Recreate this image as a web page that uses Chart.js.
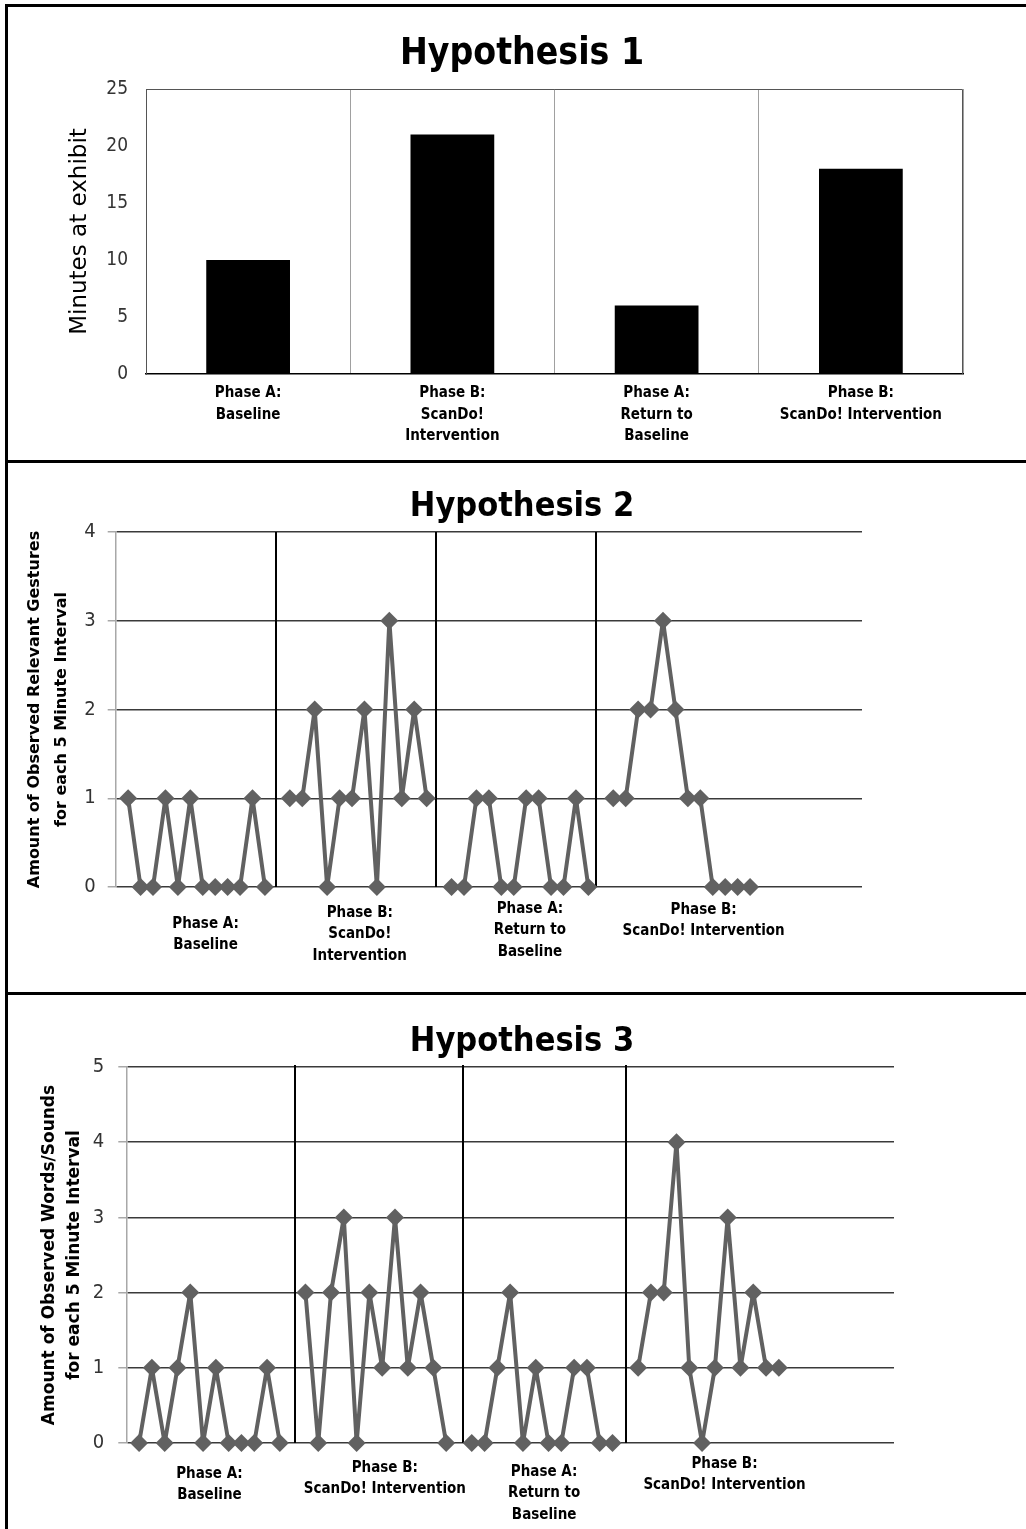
<!DOCTYPE html>
<html>
<head>
<meta charset="utf-8">
<title>Hypotheses 1-3</title>
<script src="https://cdn.jsdelivr.net/npm/chart.js@4.4.1/dist/chart.umd.min.js"></script>
<style>
    html, body { margin: 0; padding: 0; background: #fff; overflow: hidden; }
    body { width: 1026px; height: 1529px; position: relative; }
    .rule { position: absolute; background: #000; }
    canvas { position: absolute; left: 8px; }
</style>
</head>
<body>
<div class="rule" style="left:5px;top:4px;width:1021px;height:3px"></div>
<div class="rule" style="left:5px;top:4px;width:3px;height:1525px"></div>
<div class="rule" style="left:5px;top:460px;width:1021px;height:3px"></div>
<div class="rule" style="left:5px;top:992px;width:1021px;height:3px"></div>

<canvas id="hyp1" width="1028" height="452" style="top:7px"></canvas>
<canvas id="hyp2" width="1028" height="529" style="top:463px"></canvas>
<canvas id="hyp3" width="1028" height="534" style="top:995px"></canvas>

<script>
// ---- data ----
const phaseNames = [
    ['Phase A:', 'Baseline'],
    ['Phase B:', 'ScanDo!', 'Intervention'],
    ['Phase A:', 'Return to', 'Baseline'],
    ['Phase B:', 'ScanDo! Intervention']
];
const phaseNames3 = [
    ['Phase A:', 'Baseline'],
    ['Phase B:', 'ScanDo! Intervention'],
    ['Phase A:', 'Return to', 'Baseline'],
    ['Phase B:', 'ScanDo! Intervention']
];

// Hypothesis 1: minutes at exhibit per phase
const h1Minutes = [10, 21, 6, 18];
const h1Ticks = [0, 25, 5];

// Hypothesis 2: relevant gestures per 5 minute interval
const h2Baseline = [1, 0, 0, 1, 0, 1, 0, 0, 0, 0, 1, 0];
const h2ScanDo = [1, 1, 2, 0, 1, 1, 2, 0, 3, 1, 2, 1];
const h2Return = [0, 0, 1, 1, 0, 0, 1, 1, 0, 0, 1, 0];
const h2ScanDo2 = [1, 1, 2, 2, 3, 2, 1, 1, 0, 0, 0, 0];
const h2Dividers = [12.85, 25.75, 38.65];
const h2Ticks = [0, 4, 1];

// Hypothesis 3: words/sounds per 5 minute interval
const h3Baseline = [0, 1, 0, 1, 2, 0, 1, 0, 0, 0, 1, 0];
const h3ScanDo = [2, 0, 2, 3, 0, 2, 1, 3, 1, 2, 1, 0];
const h3Return = [0, 0, 1, 2, 0, 1, 0, 0, 1, 1, 0, 0];
const h3ScanDo2 = [1, 2, 2, 4, 1, 0, 1, 3, 1, 2, 1, 1];
const h3Dividers = [13.2, 26.3, 39.05];
const h3Ticks = [0, 5, 1];

const intervalSlots = 60;

const narrow = "'Liberation Sans Narrow', 'DejaVu Sans Condensed', 'Roboto', sans-serif";
const wide = "'DejaVu Sans', 'Verdana', sans-serif";
const lineGrey = '#616161';

// phases one after another, with one empty slot before and between them
function buildPoints(phases) {
    const points = [];
    const centers = [];
    let x = 1;
    phases.forEach((values, p) => {
        if (p > 0) {
            points.push({ x: x, y: null });
            x++;
        }
        centers.push(x + (values.length - 1) / 2);
        values.forEach(v => {
            points.push({ x: x, y: v });
            x++;
        });
    });
    return { points, centers };
}

// empty right-hand axis: keeps the plot narrow while the title stays centred on the page
function spacerAxis(width) {
    return {
        position: 'right',
        grid: { display: false, drawTicks: false },
        border: { display: false },
        ticks: { display: false },
        afterFit: s => { s.width = width; }
    };
}

// top and right edges of the bar chart frame
const framePlugin = {
    id: 'frame',
    beforeDatasetsDraw(chart, args, opts) {
        const { ctx, chartArea } = chart;
        ctx.save();
        ctx.strokeStyle = opts.color;
        ctx.lineWidth = 1;
        ctx.beginPath();
        ctx.moveTo(chartArea.left, chartArea.top + 0.5);
        ctx.lineTo(chartArea.right - 0.5, chartArea.top + 0.5);
        ctx.lineTo(chartArea.right - 0.5, chartArea.bottom);
        ctx.stroke();
        ctx.restore();
    }
};

// vertical phase dividers and the phase captions under the plot
const phasePlugin = {
    id: 'phases',
    beforeDatasetsDraw(chart, args, opts) {
        const { ctx, chartArea, scales: { x } } = chart;
        ctx.save();
        ctx.strokeStyle = opts.dividerColor;
        ctx.lineWidth = opts.dividerWidth;
        opts.dividers.forEach(v => {
            const px = Math.round(x.getPixelForValue(v));
            ctx.beginPath();
            ctx.moveTo(px, chartArea.top - opts.dividerOvershoot);
            ctx.lineTo(px, chartArea.bottom);
            ctx.stroke();
        });
        ctx.restore();
    },
    afterDraw(chart, args, opts) {
        const { ctx, chartArea, scales: { x } } = chart;
        ctx.save();
        ctx.font = opts.font;
        ctx.fillStyle = '#000';
        ctx.textAlign = 'center';
        ctx.textBaseline = 'middle';
        opts.labels.forEach((lines, i) => {
            const cx = x.getPixelForValue(opts.centers[i]) + opts.shift[i];
            lines.forEach((t, j) => {
                ctx.fillText(t, cx, chartArea.bottom + opts.top[i] + j * opts.lineHeight);
            });
        });
        ctx.restore();
    }
};

// ---- Hypothesis 1 ----
new Chart(document.getElementById('hyp1'), {
    type: 'bar',
    data: {
        labels: phaseNames,
        datasets: [{
            data: h1Minutes,
            backgroundColor: '#000',
            barPercentage: 0.41,
            categoryPercentage: 1
        }]
    },
    options: {
        responsive: false,
        animation: false,
        devicePixelRatio: 1,
        layout: { padding: 0 },
        plugins: {
            legend: { display: false },
            tooltip: { enabled: false },
            title: {
                display: true,
                text: 'Hypothesis 1',
                color: '#000',
                font: { family: narrow, size: 37, weight: 'bold' },
                padding: { top: 25, bottom: 12.6 }
            },
            frame: { color: '#555' }
        },
        scales: {
            x: {
                grid: { color: '#a0a0a0', offset: true, drawTicks: false },
                border: { color: '#000', width: 1.5 },
                ticks: {
                    color: '#000',
                    font: { family: narrow, size: 15, weight: 'bold', lineHeight: 1.45 },
                    padding: 8,
                    maxRotation: 0,
                    autoSkip: false
                },
                afterFit: s => { s.height = 85; }
            },
            y: {
                min: h1Ticks[0],
                max: h1Ticks[1],
                ticks: { stepSize: h1Ticks[2], color: '#333', font: { family: narrow, size: 19 }, padding: 18 },
                grid: { display: false, drawTicks: false },
                border: { color: '#555' },
                title: {
                    display: true,
                    text: 'Minutes at exhibit',
                    color: '#000',
                    font: { family: wide, size: 23 },
                    padding: { top: 58, bottom: 0 }
                },
                afterFit: s => { s.width = 138; }
            },
            pad: spacerAxis(73)
        }
    },
    plugins: [framePlugin]
});

// ---- shared line chart builder for Hypotheses 2 and 3 ----
function lineChart(id, cfg) {
    const built = buildPoints(cfg.phases);
    new Chart(document.getElementById(id), {
        type: 'line',
        data: {
            datasets: [{
                data: built.points,
                borderColor: lineGrey,
                borderWidth: 4,
                borderJoinStyle: 'round',
                backgroundColor: lineGrey,
                pointStyle: 'rectRot',
                pointRadius: 9,
                pointBorderWidth: 0,
                pointBackgroundColor: lineGrey,
                tension: 0,
                spanGaps: false,
                clip: false
            }]
        },
        options: {
            responsive: false,
            animation: false,
            devicePixelRatio: 1,
            layout: { padding: { left: 0, right: 0, top: 0, bottom: cfg.bottom } },
            plugins: {
                legend: { display: false },
                tooltip: { enabled: false },
                title: {
                    display: true,
                    text: cfg.title,
                    color: '#000',
                    font: { family: narrow, size: 34, weight: 'bold' },
                    padding: cfg.titlePad
                },
                phases: {
                    dividers: cfg.dividers,
                    dividerColor: '#000',
                    dividerWidth: 2,
                    dividerOvershoot: cfg.overshoot,
                    labels: cfg.labels,
                    centers: built.centers,
                    shift: cfg.labelShift,
                    top: cfg.labelTop,
                    lineHeight: 21.5,
                    font: 'bold 15px ' + narrow
                }
            },
            scales: {
                x: { type: 'linear', min: 0, max: intervalSlots, display: false },
                y: {
                    min: cfg.ticks[0],
                    max: cfg.ticks[1],
                    ticks: { stepSize: cfg.ticks[2], color: '#333', font: { family: narrow, size: 20 }, padding: cfg.tickPad },
                    grid: { color: '#3a3a3a', lineWidth: 1.5, tickLength: 8, tickColor: '#a8a8a8' },
                    border: { color: '#a8a8a8', width: 1.5 },
                    title: {
                        display: true,
                        text: cfg.yTitle,
                        color: '#000',
                        font: { family: wide, size: cfg.yTitleSize, weight: 'bold', lineHeight: cfg.yTitleLine },
                        padding: { top: cfg.yTitlePad, bottom: 0 }
                    },
                    afterFit: s => { s.width = cfg.axisWidth; }
                },
                pad: spacerAxis(cfg.rightSpace)
            }
        },
        plugins: [phasePlugin]
    });
}

lineChart('hyp2', {
    phases: [h2Baseline, h2ScanDo, h2Return, h2ScanDo2],
    dividers: h2Dividers,
    ticks: h2Ticks,
    labels: phaseNames,
    title: 'Hypothesis 2',
    titlePad: { top: 23.4, bottom: 4.8 },
    yTitle: ['Amount of Observed Relevant Gestures', 'for each 5 Minute Interval'],
    yTitleSize: 16,
    yTitleLine: 27 / 16,
    yTitlePad: 13.5,
    axisWidth: 107.7,
    tickPad: 12,
    rightSpace: 174,
    bottom: 105,
    overshoot: 0,
    labelShift: [9, 1.5, 10, 22],
    labelTop: [37, 26, 22, 23]
});

lineChart('hyp3', {
    phases: [h3Baseline, h3ScanDo, h3Return, h3ScanDo2],
    dividers: h3Dividers,
    ticks: h3Ticks,
    labels: phaseNames3,
    title: 'Hypothesis 3',
    titlePad: { top: 26.4, bottom: 4.8 },
    yTitle: ['Amount of Observed Words/Sounds', 'for each 5 Minute Interval'],
    yTitleSize: 17,
    yTitleLine: 25 / 17,
    yTitlePad: 29.5,
    axisWidth: 118.3,
    tickPad: 14,
    rightSpace: 142,
    bottom: 86,
    overshoot: 2,
    labelShift: [0, 9, 2, 16],
    labelTop: [31, 25, 29, 21]
});
</script>
</body>
</html>
